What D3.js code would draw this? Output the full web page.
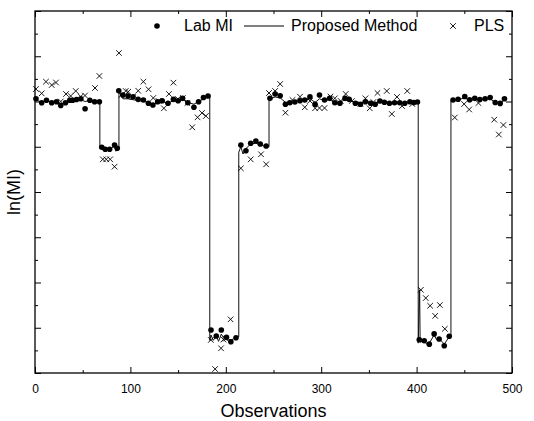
<!DOCTYPE html>
<html>
<head>
<meta charset="utf-8">
<script src="https://cdn.jsdelivr.net/npm/d3@7/dist/d3.min.js"></script>
<style>
  body { margin: 0; background: #fff; }
  text { font-family: Arial, "Liberation Sans", sans-serif; fill: #000; }
</style>
</head>
<body>
<script>
// Lab MI (dots)
const labObs = [1, 7, 12, 17.5, 22.5, 27, 32, 36.5, 39.5, 43.5, 48, 52.5, 57.5, 62.5, 67.5,
  70, 73.6, 78.2, 83.4, 86.2,
  87.8, 92.1, 97.5, 102.8, 108.1, 113.6, 118.9, 123.6, 128.6, 133.3, 139.4, 145.1, 150, 154.7, 160.2, 166.6, 171.5, 176.6, 181.4,
  184.5, 190, 195.3, 200.7, 205.3, 210.7,
  215.8, 221.1, 226.1, 231.5, 236.1, 242.3,
  246.3, 251.7, 257, 262.5, 267.1, 272.4, 277.8, 282.8, 288.2, 293.6, 298.2, 303.5, 308.9, 314.3, 319.6, 325,
  329.3, 335.8, 341.1, 346.4, 351.9, 356.6, 361.5, 366.2, 371.5, 376.9, 382.3, 387.6, 393, 397.1, 400.9,
  402.8, 408, 413.3, 418.4, 423.6, 429, 434.2,
  438.2, 443.5, 450.5, 455.6, 461, 466.3, 471.8, 477.1, 482.4, 487.6, 492.1];
const labMI = [3.030, 2.986, 3.014, 2.986, 2.997, 2.956, 2.986, 3.014, 3.014, 3.022, 3.030, 2.920, 3.014, 2.997, 2.997,
  2.494, 2.472, 2.472, 2.519, 2.483,
  3.119, 3.072, 3.061, 3.053, 3.024, 3.017, 2.980, 2.961, 2.998, 3.009, 2.980, 3.024, 3.009, 3.035, 2.987, 2.936, 2.998, 3.044, 3.061,
  0.475, 0.409, 0.475, 0.394, 0.346, 0.390,
  2.519, 2.456, 2.538, 2.564, 2.530, 2.508,
  3.035, 3.083, 3.064, 2.969, 2.987, 2.994, 3.009, 3.017, 3.053, 2.969, 3.072, 3.017, 3.035, 2.987, 2.980, 3.035,
  3.024, 2.980, 2.969, 2.998, 2.980, 2.969, 3.006, 2.991, 2.980, 2.987, 2.987, 2.980, 2.998, 2.989, 2.994,
  0.368, 0.357, 0.319, 0.432, 0.376, 0.301, 0.406,
  3.017, 3.025, 3.055, 3.020, 3.035, 3.022, 3.030, 3.044, 2.989, 2.979, 3.030];

// Proposed Method (line)
const propObs = [1, 7, 12, 17.5, 22.5, 27, 32, 36.5, 39.5, 43.5, 48, 52.5, 57.5, 62.5, 67.5, 68, 68,
  70, 73.6, 78.2, 83.4, 84.9, 86.2, 88, 88,
  92.1, 97.5, 102.8, 108.1, 113.6, 118.9, 123.6, 128.6, 133.3, 139.4, 145.1, 150, 154.7, 160.2, 166.6, 171.5, 176.6, 181.4, 183.2, 183.2,
  184.5, 186.8, 190, 192.4, 195.3, 198, 200.7, 205.3, 208.3, 210.7, 213.6, 213.6,
  215.8, 218, 221.1, 226.1, 231.5, 236.1, 242.3, 245.3, 245.3,
  246.3, 251.7, 257, 262.5, 267.1, 272.4, 277.8, 282.8, 288.2, 293.6, 298.2, 303.5, 308.9, 314.3, 319.6, 325,
  329.3, 335.8, 341.1, 346.4, 351.9, 356.6, 361.5, 366.2, 371.5, 376.9, 382.3, 387.6, 393, 397.1, 401.7, 401.7,
  403.2, 403.7, 408, 410.5, 413.3, 418.4, 420.8, 423.6, 429, 434.2, 436, 436,
  438.2, 443.5, 450.5, 455.6, 461, 466.3, 471.8, 477.1, 482.4, 487.6, 492.1];
const propMI = [3.02, 2.99, 3.01, 2.99, 2.99, 2.97, 2.99, 3.01, 3.01, 3.02, 3.02, 3.00, 3.01, 3.00, 2.99, 2.99, 2.49,
  2.48, 2.47, 2.47, 2.51, 2.45, 2.48, 2.47, 3.11,
  3.03, 3.03, 3.02, 3.01, 3.00, 2.99, 2.97, 2.99, 3.00, 2.98, 3.01, 3.00, 3.02, 2.99, 2.97, 3.00, 3.03, 3.05, 3.05, 0.36,
  0.42, 0.36, 0.41, 0.35, 0.43, 0.38, 0.39, 0.36, 0.38, 0.40, 0.40, 2.44,
  2.50, 2.42, 2.48, 2.53, 2.54, 2.52, 2.50, 2.50, 3.04,
  3.03, 3.05, 3.04, 2.99, 2.99, 3.00, 3.01, 3.01, 3.03, 2.99, 3.03, 3.01, 3.02, 2.99, 2.99, 3.02,
  3.01, 2.99, 2.98, 3.00, 2.99, 2.98, 3.00, 2.99, 2.98, 2.99, 2.99, 2.98, 2.99, 2.99, 2.99, 0.33,
  0.92, 0.34, 0.36, 0.32, 0.33, 0.42, 0.37, 0.38, 0.32, 0.40, 0.41, 3.01,
  3.01, 3.02, 3.04, 3.01, 3.02, 3.02, 3.03, 3.03, 2.99, 2.98, 3.02];

// PLS (crosses)
const plsObs = [1, 7, 11.5, 17.5, 22, 27, 32.5, 37.4, 42.7, 47.9, 52.4, 62.9, 67.5,
  71.1, 74.7, 78.8, 83.4,
  88, 90.5, 95.1, 97.7, 102.5, 108.2, 113.6, 119, 124, 129.4, 135.1, 140.4, 145.1, 149.7, 155, 159.7, 164.8, 170.4, 175, 179.1,
  184.3, 188.8, 195, 197.5, 200.1, 205,
  215.8, 226.1, 236.9, 242.3,
  245.3, 251.7, 257, 262.5, 269.9, 277.8, 282.8, 288.2, 293.6, 298.2, 303.5, 309.7, 314.3, 320.4, 325.7, 332.2,
  341.1, 346.4, 350.9, 354.7, 359, 368.7, 374, 379.4, 384.8, 390.2, 395.5,
  404.5, 409.6, 414.2, 419.5, 424.4, 429.6,
  440, 449.8, 455.1, 464.8, 481.4, 486.2, 491];
const plsMI = [3.138, 3.090, 3.219, 3.182, 3.210, 3.000, 3.083, 3.061, 3.116, 3.055, 3.066, 3.149, 3.282,
  2.361, 2.361, 2.361, 2.280,
  3.536, 3.072, 3.116, 3.108, 3.050, 3.119, 3.219, 3.135, 3.039, 3.006, 2.925, 3.083, 3.208, 3.028, 3.039, 2.983, 2.715, 2.825, 2.873, 2.840,
  0.365, 0.044, 0.273, 0.370, 0.380, 0.593,
  2.262, 2.361, 2.417, 2.306,
  3.094, 3.116, 3.193, 2.876, 3.017, 3.053, 2.936, 3.006, 2.925, 2.928, 2.928, 3.055, 3.035, 3.006, 3.083, 3.006,
  2.972, 3.035, 2.925, 2.994, 3.094, 3.116, 2.862, 3.050, 2.950, 3.116, 2.972,
  0.919, 0.828, 0.743, 0.631, 0.751, 0.488,
  2.823, 2.972, 2.912, 2.983, 2.799, 2.635, 2.740];

const xMajor = [0, 100, 200, 300, 400, 500];
const xMinor = [50, 150, 250, 350, 450];
const yMajor = [0, 0.5, 1, 1.5, 2, 2.5, 3, 3.5, 4];
const yMinor = [0.25, 0.75, 1.25, 1.75, 2.25, 2.75, 3.25, 3.75];

const width = 534, height = 421;
const plotL = 35, plotR = 512, plotT = 11, plotB = 373;

const svg = d3.select("body").append("svg")
  .attr("width", width)
  .attr("height", height);

const x = d3.scaleLinear().domain([0, 500]).range([plotL, plotR]);
const y = d3.scaleLinear().domain([0, 4]).range([plotB, plotT]);

// axes, ticks pointing inward on all four sides
function ticks(axis, pos, size, fmt) {
  const g = svg.append("g").attr("transform", pos)
    .call(axis.tickSize(size).tickFormat(fmt));
  g.select(".domain").remove();
  g.selectAll("line").attr("stroke", "#000").attr("stroke-width", 1);
  return g;
}
const noLabel = () => "";

const bottomAxis = ticks(d3.axisBottom(x).tickValues(xMajor).tickPadding(11), `translate(0,${plotB})`, -6, d3.format("d"));
bottomAxis.selectAll("text").attr("font-size", 12).attr("fill", "#000")
  .attr("font-family", "Arial, 'Liberation Sans', sans-serif");
ticks(d3.axisBottom(x).tickValues(xMinor), `translate(0,${plotB})`, -3, noLabel);
ticks(d3.axisTop(x).tickValues(xMajor), `translate(0,${plotT})`, -6, noLabel);
ticks(d3.axisTop(x).tickValues(xMinor), `translate(0,${plotT})`, -3, noLabel);
ticks(d3.axisLeft(y).tickValues(yMajor), `translate(${plotL},0)`, -6, noLabel);
ticks(d3.axisLeft(y).tickValues(yMinor), `translate(${plotL},0)`, -3, noLabel);
ticks(d3.axisRight(y).tickValues(yMajor), `translate(${plotR},0)`, -6, noLabel);
ticks(d3.axisRight(y).tickValues(yMinor), `translate(${plotR},0)`, -3, noLabel);

svg.append("rect")
  .attr("x", plotL).attr("y", plotT)
  .attr("width", plotR - plotL).attr("height", plotB - plotT)
  .attr("fill", "none").attr("stroke", "#000").attr("stroke-width", 1.3);

// Proposed Method line
const line = d3.line().x(d => x(d[0])).y(d => y(d[1]));
svg.append("path")
  .datum(propObs.map((o, i) => [o, propMI[i]]))
  .attr("d", line)
  .attr("fill", "none")
  .attr("stroke", "#111")
  .attr("stroke-width", 1);

// Lab MI dots
svg.append("g").selectAll("circle")
  .data(labObs.map((o, i) => [o, labMI[i]]))
  .join("circle")
  .attr("cx", d => x(d[0]))
  .attr("cy", d => y(d[1]))
  .attr("r", 2.8)
  .attr("fill", "#000");

// PLS crosses
const cross = d3.symbol().type(d3.symbolX).size(22);
svg.append("g").selectAll("path")
  .data(plsObs.map((o, i) => [o, plsMI[i]]))
  .join("path")
  .attr("transform", d => `translate(${x(d[0])},${y(d[1])})`)
  .attr("d", cross)
  .attr("fill", "none")
  .attr("stroke", "#000")
  .attr("stroke-width", 0.9);

// legend
const lg = svg.append("g").attr("font-size", 16);
lg.append("circle").attr("cx", 157).attr("cy", 26).attr("r", 2.8).attr("fill", "#000");
lg.append("text").attr("x", 184).attr("y", 31).text("Lab MI");
lg.append("line").attr("x1", 244).attr("x2", 284).attr("y1", 26).attr("y2", 26)
  .attr("stroke", "#000").attr("stroke-width", 1);
lg.append("text").attr("x", 291).attr("y", 31).text("Proposed Method");
lg.append("path").attr("transform", "translate(453,26)").attr("d", cross)
  .attr("fill", "none").attr("stroke", "#000").attr("stroke-width", 0.9);
lg.append("text").attr("x", 474).attr("y", 31).text("PLS");

// axis titles
svg.append("text")
  .attr("x", (plotL + plotR) / 2).attr("y", 417)
  .attr("text-anchor", "middle").attr("font-size", 18)
  .text("Observations");
svg.append("text")
  .attr("transform", `translate(20,${(plotT + plotB) / 2}) rotate(-90)`)
  .attr("text-anchor", "middle").attr("font-size", 18)
  .text("ln(MI)");
</script>
</body>
</html>
